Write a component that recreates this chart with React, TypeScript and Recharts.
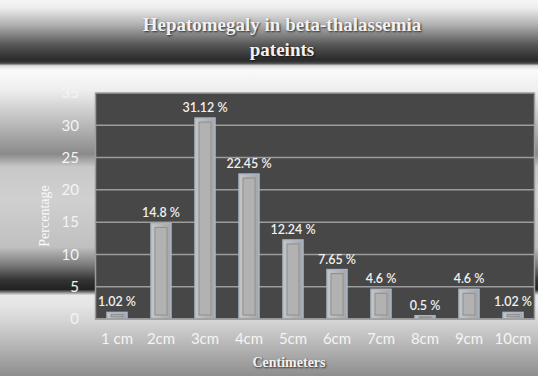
import React from 'react';
import { BarChart, Bar, XAxis, YAxis, CartesianGrid, LabelList } from 'recharts';

const categories = ['1 cm', '2cm', '3cm', '4cm', '5cm', '6cm', '7cm', '8cm', '9cm', '10cm'];
const percentages = [1.02, 14.8, 31.12, 22.45, 12.24, 7.65, 4.6, 0.5, 4.6, 1.02];
const yTicks = [0, 5, 10, 15, 20, 25, 30, 35];

const data = categories.map((cat, i) => ({ cat, value: percentages[i] }));

const background = `linear-gradient(to bottom,
  #f5f5f5 0%, #eeeeee 2%, #b0b0b0 6.6%, #555555 12%, #2a2a2a 16%, #444444 16.8%,
  #dddddd 17.5%, #fafafa 18.6%, #eeeeee 24%, #b5b5b5 33.8%, #8a8a8a 41%,
  #c8c8c8 44.4%, #d0d0d0 53%, #c0c0c0 65.7%, #7a7a7a 70.5%, #333333 74.5%,
  #222222 77%, #e8e8e8 78.5%, #e6e6e6 81%, #d6d6d6 85%, #b8b8b8 91.5%, #8e8e8e 100%)`;

// bar drawn as framed box with an inner panel
const FramedBar = (props: any) => {
  const { x, y, width, height } = props;
  if (!height || height <= 0) return null;
  const inset = Math.min(4, height / 3);
  return (
    <g>
      <rect x={x} y={y} width={width} height={height} fill="url(#barGrad)" stroke="#aab6c8" strokeWidth={1.5} />
      <rect
        x={x + 4}
        y={y + inset}
        width={width - 8}
        height={Math.max(0, height - inset * 2)}
        fill="#b2b2b2"
        stroke="#8e8e8e"
        strokeWidth={1}
      />
    </g>
  );
};

const ValueLabel = (props: any) => {
  const { x, y, width, value } = props;
  return (
    <text
      x={x + width / 2}
      y={y - 6}
      textAnchor="middle"
      fill="#f0f0f0"
      fontSize={12.5}
      fontFamily="Lato"
      fontWeight={600}
    >
      {`${value} %`}
    </text>
  );
};

const shadow = '1px 1px 2px rgba(0,0,0,0.7)';

export default function App() {
  return (
    <div style={{ position: 'relative', width: 538, height: 376, background, overflow: 'hidden' }}>
      <style>{'body{margin:0}'}</style>
      <div
        style={{
          position: 'absolute',
          left: 82,
          width: 400,
          top: 12,
          textAlign: 'center',
          fontFamily: '"Liberation Serif", serif',
          fontWeight: 'bold',
          fontSize: 19,
          lineHeight: '25px',
          color: '#f2f2f2',
          textShadow: shadow,
        }}
      >
        Hepatomegaly in beta-thalassemia
        <br />
        pateints
      </div>
      <BarChart
        width={538}
        height={376}
        data={data}
        margin={{ top: 93, right: 3, bottom: 27, left: 55 }}
        barSize={20}
      >
        <defs>
          <linearGradient id="barGrad" x1="0" y1="0" x2="1" y2="0">
            <stop offset="0%" stopColor="#c6c6c6" />
            <stop offset="100%" stopColor="#a6a6a6" />
          </linearGradient>
        </defs>
        <CartesianGrid
          fill="#474747"
          stroke="#9c9c9c"
          strokeWidth={1.5}
          verticalPoints={[95.5, 534.5]}
        />
        <XAxis
          dataKey="cat"
          axisLine={{ stroke: '#9c9c9c', strokeWidth: 1.5 }}
          tickLine={false}
          tickSize={0}
          tickMargin={14}
          tick={{ fill: '#f4f4f4', fontSize: 15, fontFamily: 'Lato' }}
          interval={0}
        />
        <YAxis
          domain={[0, 35]}
          ticks={yTicks}
          width={40}
          axisLine={false}
          tickLine={false}
          tickSize={0}
          tickMargin={16}
          tick={{ fill: '#f4f4f4', fontSize: 15, fontFamily: 'Lato' }}
        />
        <Bar dataKey="value" shape={<FramedBar />} isAnimationActive={false}>
          <LabelList dataKey="value" content={<ValueLabel />} />
        </Bar>
      </BarChart>
      <div
        style={{
          position: 'absolute',
          left: 189,
          width: 200,
          top: 355,
          textAlign: 'center',
          fontFamily: '"Liberation Serif", serif',
          fontWeight: 'bold',
          fontSize: 14,
          color: '#f2f2f2',
          textShadow: shadow,
        }}
      >
        Centimeters
      </div>
      <div
        style={{
          position: 'absolute',
          left: 45,
          top: 216,
          transform: 'translate(-50%, -50%) rotate(-90deg)',
          fontFamily: '"Liberation Serif", serif',
          fontSize: 14,
          color: '#fafafa',
          whiteSpace: 'nowrap',
        }}
      >
        Percentage
      </div>
    </div>
  );
}
